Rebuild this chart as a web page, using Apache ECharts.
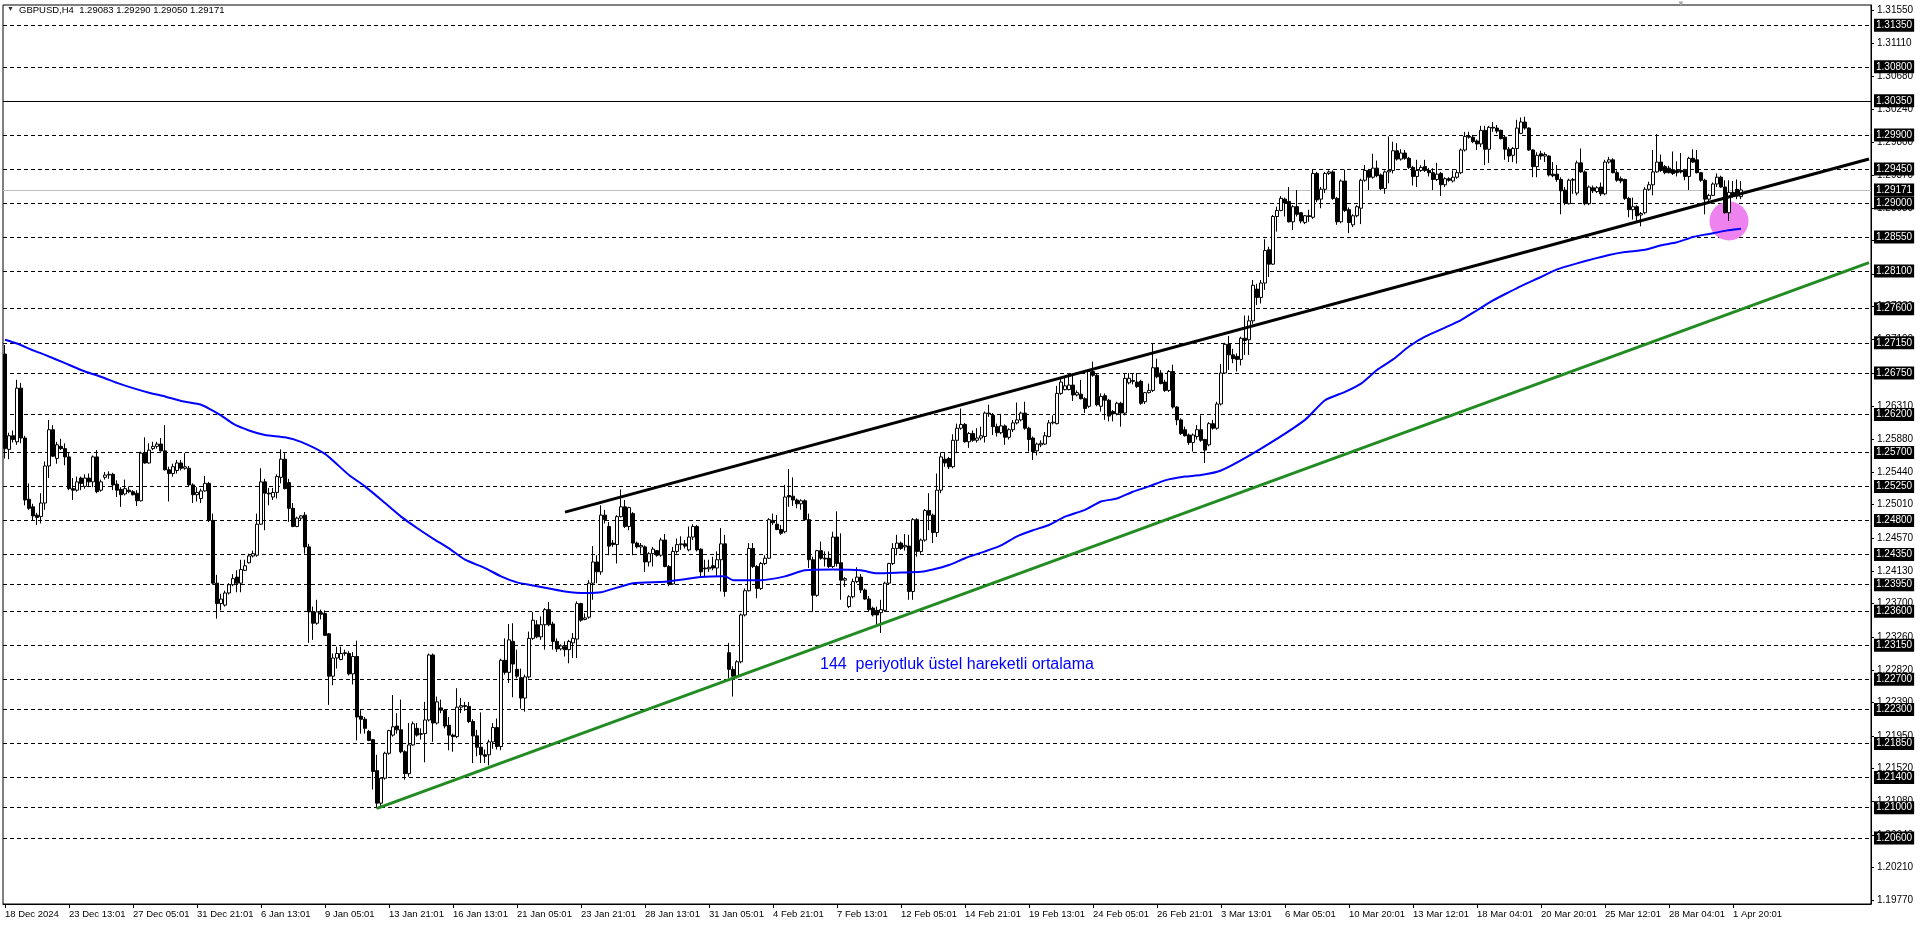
<!DOCTYPE html>
<html><head><meta charset="utf-8">
<script src="https://cdn.jsdelivr.net/npm/echarts@6/dist/echarts.min.js"></script>
<style>html,body{margin:0;padding:0;background:#fff;overflow:hidden}#c{width:1920px;height:927px}</style>
</head><body><div id="c"></div>
<script>
const title = 'GBPUSD,H4  1.29083 1.29290 1.29050 1.29171';
const tickLabels = ['18 Dec 2024','23 Dec 13:01','27 Dec 05:01','31 Dec 21:01','6 Jan 13:01','9 Jan 05:01','13 Jan 21:01','16 Jan 13:01','21 Jan 05:01','23 Jan 21:01','28 Jan 13:01','31 Jan 05:01','4 Feb 21:01','7 Feb 13:01','12 Feb 05:01','14 Feb 21:01','19 Feb 13:01','24 Feb 05:01','26 Feb 21:01','3 Mar 13:01','6 Mar 05:01','10 Mar 20:01','13 Mar 12:01','18 Mar 04:01','20 Mar 20:01','25 Mar 12:01','28 Mar 04:01','1 Apr 20:01'];
const barsPerLabel = 16;
const slotCount = 467;
const priceTicks = [1.3155,1.3111,1.3068,1.3024,1.2980,1.2937,1.2893,1.2850,1.2806,1.2763,1.2719,1.2675,1.2631,1.2588,1.2544,1.2501,1.2457,1.2413,1.2370,1.2326,1.2282,1.2239,1.2195,1.2152,1.2108,1.2064,1.2021,1.1977];
const dashedLevels = [1.3135,1.3080,1.2990,1.2945,1.2900,1.2855,1.2810,1.2760,1.2715,1.2675,1.2620,1.2570,1.2525,1.2480,1.2435,1.2395,1.2360,1.2315,1.2270,1.2230,1.2185,1.2140,1.2100,1.2060];
const solidLevel = 1.3035;
const bidLevel = 1.29171;
const priceMin = 1.19726, priceMax = 1.31618;
// [open, high, low, close] per H4 bar
const candles = [
[1.2700,1.2712,1.2562,1.2575],[1.2574,1.2596,1.2561,1.2592],[1.2592,1.2599,1.2583,1.2587],[1.2584,1.2666,1.2580,1.2655],[1.2655,1.2662,1.2582,1.2589],[1.2589,1.2592,1.2500,1.2507],[1.2508,1.2529,1.2494,1.2496],[1.2498,1.2502,1.2480,1.2486],[1.2487,1.2490,1.2474,1.2484],[1.2485,1.2516,1.2476,1.2503],
[1.2503,1.2558,1.2494,1.2552],[1.2552,1.2613,1.2536,1.2600],[1.2600,1.2606,1.2564,1.2565],[1.2562,1.2584,1.2555,1.2580],[1.2578,1.2588,1.2573,1.2575],[1.2575,1.2582,1.2553,1.2564],[1.2564,1.2569,1.2520,1.2522],[1.2522,1.2536,1.2507,1.2520],[1.2520,1.2538,1.2518,1.2531],[1.2536,1.2538,1.2520,1.2529],
[1.2525,1.2541,1.2522,1.2536],[1.2536,1.2542,1.2524,1.2531],[1.2531,1.2566,1.2524,1.2564],[1.2564,1.2573,1.2516,1.2518],[1.2520,1.2534,1.2518,1.2531],[1.2537,1.2544,1.2534,1.2540],[1.2540,1.2545,1.2535,1.2541],[1.2541,1.2543,1.2520,1.2527],[1.2528,1.2533,1.2511,1.2520],[1.2521,1.2524,1.2498,1.2514],
[1.2515,1.2534,1.2513,1.2522],[1.2520,1.2525,1.2516,1.2518],[1.2518,1.2520,1.2513,1.2514],[1.2516,1.2520,1.2499,1.2506],[1.2506,1.2571,1.2505,1.2569],[1.2569,1.2590,1.2555,1.2556],[1.2556,1.2582,1.2555,1.2573],[1.2575,1.2584,1.2573,1.2578],[1.2578,1.2584,1.2575,1.2581],[1.2581,1.2589,1.2571,1.2572],
[1.2572,1.2606,1.2546,1.2547],[1.2547,1.2551,1.2505,1.2542],[1.2542,1.2555,1.2538,1.2551],[1.2546,1.2560,1.2542,1.2556],[1.2556,1.2560,1.2546,1.2549],[1.2549,1.2569,1.2547,1.2551],[1.2549,1.2552,1.2525,1.2527],[1.2527,1.2529,1.2503,1.2514],[1.2514,1.2524,1.2505,1.2517],[1.2509,1.2522,1.2503,1.2519],
[1.2519,1.2539,1.2518,1.2529],[1.2529,1.2531,1.2478,1.2480],[1.2480,1.2489,1.2395,1.2397],[1.2397,1.2408,1.2350,1.2370],[1.2370,1.2383,1.2361,1.2376],[1.2368,1.2387,1.2366,1.2384],[1.2384,1.2397,1.2382,1.2395],[1.2395,1.2409,1.2393,1.2403],[1.2405,1.2414,1.2385,1.2397],[1.2397,1.2428,1.2385,1.2415],
[1.2414,1.2428,1.2413,1.2420],[1.2424,1.2436,1.2423,1.2433],[1.2433,1.2440,1.2431,1.2436],[1.2434,1.2489,1.2432,1.2475],[1.2475,1.2549,1.2474,1.2531],[1.2531,1.2535,1.2467,1.2516],[1.2516,1.2523,1.2500,1.2515],[1.2511,1.2523,1.2507,1.2517],[1.2517,1.2541,1.2509,1.2538],[1.2537,1.2574,1.2529,1.2561],
[1.2561,1.2569,1.2521,1.2522],[1.2530,1.2535,1.2478,1.2496],[1.2496,1.2503,1.2471,1.2472],[1.2472,1.2485,1.2471,1.2483],[1.2483,1.2487,1.2480,1.2486],[1.2487,1.2491,1.2436,1.2445],[1.2445,1.2449,1.2318,1.2359],[1.2359,1.2366,1.2322,1.2344],[1.2344,1.2375,1.2342,1.2359],[1.2358,1.2362,1.2349,1.2356],
[1.2357,1.2361,1.2327,1.2328],[1.2330,1.2331,1.2236,1.2274],[1.2274,1.2304,1.2262,1.2298],[1.2298,1.2313,1.2284,1.2304],[1.2296,1.2313,1.2295,1.2304],[1.2304,1.2309,1.2301,1.2305],[1.2304,1.2307,1.2275,1.2277],[1.2277,1.2306,1.2263,1.2300],[1.2300,1.2321,1.2189,1.2220],[1.2221,1.2229,1.2198,1.2217],
[1.2217,1.2220,1.2198,1.2205],[1.2201,1.2203,1.2188,1.2189],[1.2190,1.2191,1.2124,1.2148],[1.2149,1.2170,1.2099,1.2106],[1.2106,1.2140,1.2102,1.2139],[1.2139,1.2174,1.2137,1.2172],[1.2172,1.2203,1.2170,1.2202],[1.2196,1.2249,1.2194,1.2207],[1.2208,1.2225,1.2198,1.2203],[1.2203,1.2243,1.2172,1.2174],
[1.2174,1.2176,1.2137,1.2145],[1.2145,1.2212,1.2141,1.2183],[1.2183,1.2214,1.2182,1.2211],[1.2205,1.2212,1.2194,1.2196],[1.2197,1.2205,1.2190,1.2198],[1.2198,1.2240,1.2160,1.2216],[1.2216,1.2304,1.2214,1.2302],[1.2302,1.2304,1.2187,1.2212],[1.2212,1.2247,1.2210,1.2240],[1.2232,1.2243,1.2225,1.2229],
[1.2229,1.2230,1.2205,1.2208],[1.2209,1.2220,1.2176,1.2196],[1.2196,1.2198,1.2174,1.2194],[1.2194,1.2258,1.2192,1.2233],[1.2233,1.2245,1.2225,1.2235],[1.2235,1.2240,1.2228,1.2234],[1.2234,1.2240,1.2212,1.2214],[1.2214,1.2217,1.2159,1.2195],[1.2195,1.2203,1.2168,1.2180],[1.2180,1.2226,1.2159,1.2170],
[1.2170,1.2177,1.2159,1.2168],[1.2170,1.2190,1.2156,1.2187],[1.2187,1.2212,1.2178,1.2206],[1.2206,1.2218,1.2177,1.2181],[1.2181,1.2297,1.2176,1.2295],[1.2295,1.2324,1.2276,1.2279],[1.2279,1.2343,1.2265,1.2322],[1.2320,1.2344,1.2246,1.2290],[1.2283,1.2309,1.2271,1.2274],[1.2272,1.2284,1.2231,1.2245],
[1.2245,1.2276,1.2227,1.2273],[1.2273,1.2333,1.2271,1.2324],[1.2324,1.2359,1.2322,1.2348],[1.2342,1.2348,1.2324,1.2326],[1.2326,1.2353,1.2322,1.2342],[1.2342,1.2364,1.2309,1.2362],[1.2362,1.2372,1.2340,1.2342],[1.2343,1.2346,1.2309,1.2320],[1.2320,1.2324,1.2306,1.2310],[1.2310,1.2316,1.2308,1.2314],
[1.2313,1.2320,1.2300,1.2309],[1.2309,1.2322,1.2291,1.2320],[1.2318,1.2331,1.2298,1.2324],[1.2323,1.2373,1.2298,1.2370],[1.2370,1.2371,1.2346,1.2348],[1.2349,1.2357,1.2348,1.2351],[1.2352,1.2401,1.2350,1.2397],[1.2397,1.2446,1.2375,1.2425],[1.2425,1.2434,1.2397,1.2412],[1.2412,1.2500,1.2408,1.2487],
[1.2487,1.2494,1.2476,1.2481],[1.2472,1.2478,1.2434,1.2446],[1.2450,1.2454,1.2445,1.2448],[1.2448,1.2487,1.2423,1.2485],[1.2485,1.2521,1.2484,1.2498],[1.2498,1.2507,1.2470,1.2472],[1.2472,1.2498,1.2467,1.2497],[1.2489,1.2491,1.2434,1.2450],[1.2450,1.2452,1.2443,1.2445],[1.2445,1.2450,1.2436,1.2447],
[1.2445,1.2447,1.2412,1.2425],[1.2425,1.2438,1.2419,1.2436],[1.2436,1.2445,1.2419,1.2442],[1.2440,1.2441,1.2432,1.2434],[1.2434,1.2457,1.2432,1.2454],[1.2454,1.2462,1.2418,1.2419],[1.2419,1.2421,1.2393,1.2396],[1.2396,1.2445,1.2395,1.2439],[1.2439,1.2456,1.2436,1.2448],[1.2448,1.2459,1.2441,1.2449],
[1.2449,1.2454,1.2443,1.2446],[1.2441,1.2472,1.2439,1.2458],[1.2458,1.2475,1.2454,1.2472],[1.2472,1.2474,1.2439,1.2441],[1.2442,1.2443,1.2406,1.2412],[1.2417,1.2428,1.2406,1.2416],[1.2416,1.2428,1.2412,1.2418],[1.2420,1.2432,1.2414,1.2417],[1.2417,1.2439,1.2406,1.2428],[1.2428,1.2470,1.2386,1.2449],
[1.2449,1.2461,1.2379,1.2386],[1.2305,1.2318,1.2271,1.2283],[1.2283,1.2287,1.2247,1.2274],[1.2274,1.2295,1.2271,1.2293],[1.2293,1.2357,1.2291,1.2355],[1.2355,1.2390,1.2353,1.2387],[1.2387,1.2450,1.2386,1.2443],[1.2443,1.2450,1.2417,1.2419],[1.2419,1.2421,1.2377,1.2390],[1.2390,1.2425,1.2388,1.2423],
[1.2423,1.2434,1.2421,1.2430],[1.2430,1.2483,1.2429,1.2481],[1.2480,1.2489,1.2474,1.2477],[1.2475,1.2487,1.2467,1.2468],[1.2468,1.2474,1.2461,1.2463],[1.2465,1.2527,1.2463,1.2511],[1.2513,1.2548,1.2498,1.2511],[1.2512,1.2537,1.2499,1.2507],[1.2507,1.2509,1.2496,1.2502],[1.2502,1.2508,1.2494,1.2506],
[1.2506,1.2508,1.2480,1.2481],[1.2481,1.2489,1.2417,1.2428],[1.2428,1.2432,1.2359,1.2381],[1.2381,1.2441,1.2379,1.2440],[1.2440,1.2452,1.2428,1.2430],[1.2430,1.2439,1.2419,1.2429],[1.2430,1.2439,1.2417,1.2419],[1.2419,1.2465,1.2417,1.2458],[1.2458,1.2492,1.2419,1.2423],[1.2424,1.2463,1.2375,1.2401],
[1.2401,1.2405,1.2392,1.2403],[1.2366,1.2381,1.2364,1.2379],[1.2379,1.2403,1.2377,1.2399],[1.2399,1.2418,1.2397,1.2405],[1.2405,1.2409,1.2384,1.2388],[1.2388,1.2390,1.2375,1.2376],[1.2376,1.2380,1.2359,1.2362],[1.2364,1.2366,1.2353,1.2355],[1.2361,1.2366,1.2342,1.2355],[1.2358,1.2375,1.2331,1.2362],
[1.2361,1.2399,1.2359,1.2397],[1.2397,1.2424,1.2395,1.2423],[1.2423,1.2450,1.2421,1.2443],[1.2443,1.2461,1.2434,1.2450],[1.2450,1.2452,1.2441,1.2443],[1.2445,1.2462,1.2440,1.2447],[1.2446,1.2461,1.2375,1.2386],[1.2386,1.2483,1.2375,1.2481],[1.2481,1.2483,1.2432,1.2439],[1.2439,1.2456,1.2436,1.2454],
[1.2454,1.2495,1.2452,1.2493],[1.2493,1.2516,1.2467,1.2487],[1.2487,1.2489,1.2450,1.2464],[1.2464,1.2542,1.2458,1.2520],[1.2520,1.2570,1.2516,1.2564],[1.2561,1.2569,1.2551,1.2556],[1.2562,1.2564,1.2548,1.2551],[1.2551,1.2594,1.2549,1.2586],[1.2586,1.2608,1.2569,1.2602],[1.2602,1.2628,1.2600,1.2607],
[1.2607,1.2609,1.2583,1.2584],[1.2584,1.2597,1.2576,1.2595],[1.2595,1.2599,1.2584,1.2586],[1.2586,1.2602,1.2583,1.2589],[1.2589,1.2604,1.2586,1.2592],[1.2591,1.2624,1.2583,1.2622],[1.2622,1.2633,1.2617,1.2621],[1.2619,1.2622,1.2593,1.2604],[1.2604,1.2608,1.2591,1.2596],[1.2596,1.2621,1.2594,1.2605],
[1.2605,1.2607,1.2580,1.2590],[1.2590,1.2602,1.2587,1.2600],[1.2600,1.2613,1.2597,1.2609],[1.2609,1.2636,1.2607,1.2613],[1.2613,1.2624,1.2611,1.2622],[1.2622,1.2637,1.2600,1.2602],[1.2602,1.2604,1.2571,1.2587],[1.2589,1.2591,1.2560,1.2571],[1.2572,1.2583,1.2566,1.2581],[1.2580,1.2586,1.2577,1.2582],
[1.2581,1.2597,1.2580,1.2592],[1.2591,1.2613,1.2590,1.2609],[1.2609,1.2619,1.2607,1.2610],[1.2608,1.2658,1.2607,1.2648],[1.2648,1.2670,1.2646,1.2663],[1.2653,1.2670,1.2652,1.2658],[1.2653,1.2675,1.2652,1.2659],[1.2659,1.2674,1.2638,1.2646],[1.2646,1.2652,1.2644,1.2649],[1.2647,1.2666,1.2640,1.2641],
[1.2641,1.2643,1.2622,1.2628],[1.2631,1.2680,1.2629,1.2677],[1.2677,1.2690,1.2670,1.2672],[1.2672,1.2674,1.2631,1.2633],[1.2631,1.2648,1.2624,1.2644],[1.2645,1.2648,1.2613,1.2639],[1.2639,1.2641,1.2611,1.2618],[1.2624,1.2626,1.2611,1.2621],[1.2621,1.2637,1.2619,1.2635],[1.2635,1.2637,1.2604,1.2622],
[1.2622,1.2675,1.2619,1.2668],[1.2662,1.2675,1.2660,1.2668],[1.2665,1.2675,1.2660,1.2664],[1.2663,1.2675,1.2655,1.2657],[1.2664,1.2666,1.2633,1.2635],[1.2637,1.2650,1.2634,1.2649],[1.2649,1.2661,1.2648,1.2652],[1.2652,1.2714,1.2650,1.2682],[1.2682,1.2694,1.2668,1.2670],[1.2675,1.2679,1.2660,1.2661],
[1.2663,1.2666,1.2650,1.2652],[1.2652,1.2679,1.2650,1.2677],[1.2677,1.2686,1.2628,1.2630],[1.2630,1.2631,1.2606,1.2613],[1.2613,1.2615,1.2593,1.2595],[1.2600,1.2604,1.2591,1.2592],[1.2593,1.2595,1.2580,1.2583],[1.2583,1.2595,1.2571,1.2593],[1.2591,1.2606,1.2587,1.2600],[1.2600,1.2619,1.2584,1.2586],
[1.2587,1.2588,1.2556,1.2573],[1.2580,1.2610,1.2578,1.2608],[1.2608,1.2613,1.2600,1.2602],[1.2602,1.2637,1.2600,1.2634],[1.2634,1.2687,1.2632,1.2675],[1.2675,1.2715,1.2674,1.2713],[1.2713,1.2724,1.2679,1.2699],[1.2699,1.2707,1.2688,1.2694],[1.2697,1.2701,1.2677,1.2693],[1.2693,1.2723,1.2685,1.2721],
[1.2721,1.2751,1.2699,1.2718],[1.2719,1.2751,1.2699,1.2744],[1.2744,1.2798,1.2740,1.2791],[1.2786,1.2793,1.2765,1.2775],[1.2775,1.2798,1.2767,1.2794],[1.2794,1.2852,1.2785,1.2837],[1.2838,1.2842,1.2802,1.2819],[1.2819,1.2884,1.2818,1.2882],[1.2882,1.2895,1.2862,1.2890],[1.2890,1.2909,1.2889,1.2906],
[1.2905,1.2907,1.2882,1.2900],[1.2902,1.2921,1.2874,1.2875],[1.2875,1.2897,1.2864,1.2895],[1.2895,1.2917,1.2882,1.2885],[1.2887,1.2888,1.2873,1.2876],[1.2874,1.2884,1.2872,1.2883],[1.2883,1.2891,1.2875,1.2882],[1.2881,1.2944,1.2879,1.2939],[1.2939,1.2941,1.2901,1.2904],[1.2905,1.2921,1.2893,1.2918],
[1.2918,1.2941,1.2913,1.2939],[1.2939,1.2943,1.2937,1.2941],[1.2941,1.2943,1.2904,1.2906],[1.2906,1.2908,1.2871,1.2875],[1.2875,1.2931,1.2873,1.2929],[1.2929,1.2944,1.2888,1.2890],[1.2891,1.2894,1.2860,1.2874],[1.2871,1.2885,1.2868,1.2883],[1.2883,1.2897,1.2881,1.2895],[1.2893,1.2932,1.2872,1.2930],
[1.2930,1.2950,1.2928,1.2943],[1.2943,1.2945,1.2917,1.2934],[1.2934,1.2965,1.2932,1.2946],[1.2946,1.2956,1.2934,1.2936],[1.2937,1.2939,1.2917,1.2919],[1.2919,1.2943,1.2912,1.2941],[1.2941,1.2988,1.2926,1.2943],[1.2943,1.2981,1.2939,1.2969],[1.2969,1.2979,1.2956,1.2958],[1.2958,1.2971,1.2956,1.2966],
[1.2966,1.2970,1.2957,1.2959],[1.2959,1.2961,1.2945,1.2947],[1.2947,1.2949,1.2923,1.2935],[1.2935,1.2957,1.2921,1.2943],[1.2943,1.2950,1.2941,1.2947],[1.2948,1.2957,1.2941,1.2943],[1.2943,1.2946,1.2935,1.2940],[1.2940,1.2946,1.2917,1.2931],[1.2931,1.2953,1.2929,1.2938],[1.2939,1.2941,1.2909,1.2924],
[1.2924,1.2934,1.2921,1.2932],[1.2932,1.2934,1.2928,1.2930],[1.2929,1.2943,1.2927,1.2934],[1.2934,1.2944,1.2932,1.2940],[1.2940,1.2972,1.2938,1.2970],[1.2970,1.2994,1.2968,1.2988],[1.2988,1.2994,1.2985,1.2987],[1.2987,1.2990,1.2979,1.2981],[1.2982,1.2984,1.2970,1.2978],[1.2978,1.3002,1.2974,1.2996],
[1.2996,1.3002,1.2950,1.2971],[1.2971,1.3002,1.2953,1.3000],[1.3000,1.3007,1.2994,1.2999],[1.2999,1.3003,1.2992,1.2995],[1.2996,1.2997,1.2984,1.2985],[1.2987,1.2989,1.2957,1.2971],[1.2971,1.2974,1.2954,1.2962],[1.2963,1.2974,1.2954,1.2972],[1.2972,1.3010,1.2952,1.2999],[1.2992,1.3013,1.2991,1.3007],
[1.3007,1.3014,1.2997,1.2999],[1.2999,1.3000,1.2969,1.2970],[1.2970,1.2971,1.2934,1.2948],[1.2948,1.2967,1.2934,1.2963],[1.2965,1.2969,1.2957,1.2962],[1.2962,1.2967,1.2954,1.2964],[1.2962,1.2963,1.2935,1.2937],[1.2938,1.2954,1.2934,1.2936],[1.2938,1.2950,1.2928,1.2931],[1.2931,1.2934,1.2885,1.2916],
[1.2917,1.2921,1.2897,1.2900],[1.2899,1.2932,1.2898,1.2930],[1.2930,1.2933,1.2912,1.2931],[1.2913,1.2956,1.2910,1.2953],[1.2953,1.2972,1.2940,1.2941],[1.2941,1.2943,1.2897,1.2899],[1.2899,1.2923,1.2897,1.2921],[1.2920,1.2923,1.2913,1.2916],[1.2915,1.2922,1.2913,1.2920],[1.2921,1.2927,1.2909,1.2912],
[1.2912,1.2957,1.2910,1.2954],[1.2954,1.2961,1.2952,1.2957],[1.2957,1.2959,1.2939,1.2940],[1.2940,1.2943,1.2928,1.2930],[1.2932,1.2935,1.2926,1.2929],[1.2931,1.2932,1.2904,1.2906],[1.2906,1.2908,1.2881,1.2891],[1.2891,1.2907,1.2878,1.2895],[1.2895,1.2897,1.2876,1.2883],[1.2884,1.2888,1.2869,1.2886],
[1.2887,1.2921,1.2885,1.2918],[1.2918,1.2928,1.2916,1.2924],[1.2924,1.2970,1.2910,1.2941],[1.2941,1.2991,1.2940,1.2954],[1.2954,1.2964,1.2941,1.2943],[1.2948,1.2950,1.2938,1.2940],[1.2946,1.2949,1.2939,1.2940],[1.2944,1.2968,1.2937,1.2939],[1.2943,1.2955,1.2935,1.2940],[1.2943,1.2966,1.2939,1.2941],
[1.2943,1.2945,1.2930,1.2935],[1.2935,1.2961,1.2917,1.2959],[1.2959,1.2971,1.2953,1.2954],[1.2957,1.2970,1.2939,1.2940],[1.2940,1.2941,1.2928,1.2930],[1.2930,1.2932,1.2885,1.2905],[1.2905,1.2912,1.2901,1.2910],[1.2910,1.2927,1.2909,1.2925],[1.2925,1.2939,1.2921,1.2934],[1.2934,1.2936,1.2920,1.2921],
[1.2921,1.2930,1.2886,1.2887],[1.2887,1.2930,1.2876,1.2914],[1.2914,1.2929,1.2907,1.2909],[1.2918,1.2931,1.2905,1.2909],[1.29083,1.29290,1.29050,1.29171]
];
// 144-period EMA: [barIndex, value]
const ema144 = [[0,1.2719],[3,1.2714],[7,1.2705],[10,1.2699],[15,1.2688],[20,1.2677],[24,1.2670],[28,1.2662],[32,1.2655],[36,1.2649],[40,1.2644],[44,1.2638],[49,1.2633],[51,1.2628],[54,1.2619],[57,1.2608],[61,1.2599],[65,1.2593],[70,1.2590],[74,1.2584],[80,1.2568],[86,1.2540],[90,1.2525],[95,1.2503],[99,1.2485],[103,1.2470],[107,1.2456],[111,1.2443],[115,1.2428],[120,1.2417],[124,1.2406],[128,1.2398],[132,1.2394],[136,1.2390],[140,1.2386],[145,1.2384],[149,1.2385],[157,1.2397],[165,1.2399],[174,1.2405],[180,1.2406],[182,1.2401],[189,1.2401],[195,1.2406],[200,1.2414],[207,1.2415],[214,1.2414],[218,1.2410],[224,1.2411],[229,1.2412],[232,1.2415],[236,1.2421],[240,1.2430],[245,1.2439],[249,1.2447],[253,1.2459],[257,1.2467],[261,1.2474],[265,1.2485],[270,1.2494],[274,1.2505],[278,1.2509],[282,1.2518],[286,1.2525],[290,1.2533],[295,1.2538],[299,1.2540],[304,1.2546],[314,1.2575],[325,1.2613],[330,1.2639],[335,1.2650],[339,1.2661],[343,1.2679],[347,1.2693],[351,1.2710],[355,1.2723],[360,1.2735],[364,1.2745],[368,1.2758],[372,1.2771],[376,1.2782],[379,1.2790],[384,1.2802],[388,1.2812],[393,1.2820],[401,1.2831],[405,1.2835],[410,1.2838],[414,1.2844],[418,1.2848],[422,1.2855],[426,1.2859],[430,1.2863],[434,1.2866]];
const trendBlack = [[140,1.2491],[466,1.2958]];
const trendGreen = [[93,1.2099],[466,1.2821]];
const highlight = [[431,1.2876]];
const note = '144  periyotluk üstel hareketli ortalama';

const FONT = 'Liberation Sans';
const chart = echarts.init(document.getElementById('c'), null, {renderer: 'canvas'});
const slots = Array.from({length: slotCount}, (_, i) => String(i));
const ecCandles = candles.map(c => [c[0], c[3], c[2], c[1]]);
const showTick = i => i % barsPerLabel === 0 && i / barsPerLabel < tickLabels.length;
const fmt = v => Number(v).toFixed(5);
const levelLines = dashedLevels.map(v => ({yAxis: v, lineStyle: {type: [4, 3], color: '#000', width: 1}}))
  .concat([
    {yAxis: solidLevel, lineStyle: {type: 'solid', color: '#000', width: 1}},
    {yAxis: bidLevel, lineStyle: {type: 'solid', color: '#c0c0c0', width: 1}}
  ]);

chart.setOption({
  animation: false,
  backgroundColor: '#fff',
  tooltip: {show: false},
  grid: {left: 3, top: 5, width: 1868, height: 899, show: true, borderColor: '#000', borderWidth: 1, backgroundColor: 'transparent'},
  xAxis: {
    type: 'category', data: slots, boundaryGap: true,
    axisLine: {show: true, lineStyle: {color: '#000', width: 1}},
    axisTick: {show: true, interval: (i) => showTick(i), alignWithLabel: true, length: 4, lineStyle: {color: '#000'}},
    axisLabel: {show: true, interval: (i) => showTick(i), formatter: (v, i) => showTick(i) ? tickLabels[i / barsPerLabel] : '',
      align: 'left', margin: 5, fontSize: 9.5, fontFamily: FONT, color: '#000'},
    splitLine: {show: false}
  },
  yAxis: {
    type: 'value', position: 'right', min: priceMin, max: priceMax,
    axisLine: {show: true, lineStyle: {color: '#000'}},
    axisTick: {show: true, customValues: priceTicks, length: 3, lineStyle: {color: '#000'}},
    axisLabel: {show: true, customValues: priceTicks, formatter: fmt, margin: 6, fontSize: 10, fontFamily: FONT, color: '#000'},
    splitLine: {show: false}
  },
  series: [
    {
      type: 'scatter', data: highlight, symbol: 'circle', symbolSize: 39, z: 1, silent: true,
      itemStyle: {color: '#ee82ee', opacity: 1},
      markLine: {
        silent: true, z: 1, precision: 5, symbol: ['none', 'none'], data: levelLines,
        label: {show: true, position: 'end', distance: 3, formatter: p => fmt(p.value), color: '#fff',
          backgroundColor: '#000', padding: [2, 2, 1, 2], fontSize: 10, fontFamily: FONT},
        emphasis: {disabled: true}
      }
    },
    {
      type: 'candlestick', data: ecCandles, barWidth: 3, z: 2, silent: true,
      itemStyle: {color: '#fff', color0: '#000', borderColor: '#000', borderColor0: '#000', borderWidth: 1}
    },
    {
      type: 'line', data: ema144, showSymbol: false, symbol: 'none', smooth: 0.2, z: 3, silent: true,
      lineStyle: {color: '#0000ff', width: 2},
      markLine: {
        silent: true, precision: 5, symbol: ['none', 'none'], label: {show: false}, emphasis: {disabled: true},
        data: [
          [{coord: trendBlack[0], lineStyle: {color: '#000', width: 3, type: 'solid'}}, {coord: trendBlack[1], lineStyle: {color: '#000', width: 3, type: 'solid'}}],
          [{coord: trendGreen[0], lineStyle: {color: '#228b22', width: 3, type: 'solid'}}, {coord: trendGreen[1], lineStyle: {color: '#228b22', width: 3, type: 'solid'}}]
        ]
      }
    }
  ],
  graphic: [
    {type: 'text', left: 7, top: 6, style: {text: '▼', fontSize: 7, fill: '#333'}},
    {type: 'text', left: 19, top: 5, style: {text: title, fontSize: 9.5, fontFamily: FONT, fill: '#000'}},
    {type: 'text', left: 1677, top: 0, style: {text: '▼', fontSize: 8, fill: '#a8a8a8'}},
    {type: 'text', left: 820, top: 657, style: {text: note, fontSize: 16, fontFamily: FONT, fill: '#0000ff'}}
  ]
});
</script>
</body></html>
